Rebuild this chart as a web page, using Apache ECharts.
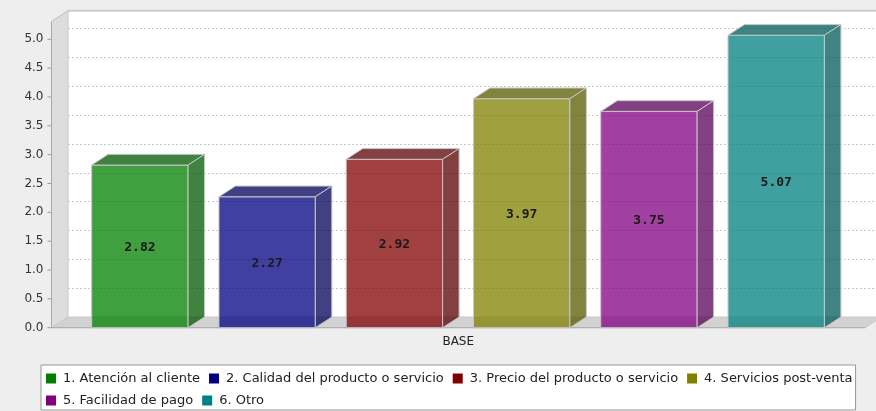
<!DOCTYPE html>
<html>
<head>
<meta charset="utf-8">
<script src="https://cdn.jsdelivr.net/npm/echarts@6/dist/echarts.min.js"></script>
<style>
html,body{margin:0;padding:0;background:#eeeeee;}
#chart{width:876px;height:411px;}
</style>
</head>
<body>
<div id="chart"></div>
<script>
// ---- data ----
const categories = ['BASE'];
const seriesNames = [
  '1. Atención al cliente',
  '2. Calidad del producto o servicio',
  '3. Precio del producto o servicio',
  '4. Servicios post-venta',
  '5. Facilidad de pago',
  '6. Otro'
];
const seriesValues = [2.82, 2.27, 2.92, 3.97, 3.75, 5.07];
const seriesColors = [[0,128,0],[0,0,128],[128,0,0],[128,128,0],[128,0,128],[0,128,128]];
const yMin = 0, yMax = 5.31, yStep = 0.5;

// ---- style / geometry ----
const DX = 16.5, DY = -10.7;
const startFrac = 0.0494, widthFrac = 0.1185, pitchFrac = 0.15644;
const FONT = '"DejaVu Sans", sans-serif';

function rgba(c, k, a) {
  return 'rgba(' + Math.round(c[0]*k) + ',' + Math.round(c[1]*k) + ',' + Math.round(c[2]*k) + ',' + a + ')';
}
function hex(c) {
  return '#' + c.map(v => v.toString(16).padStart(2, '0')).join('');
}

function renderWalls(params, api) {
  const cs = params.coordSys;
  const L = cs.x, R = cs.x + cs.width, T = cs.y, B = cs.y + cs.height;
  const ch = [];
  ch.push({type:'polygon', shape:{points:[[L,B],[L+DX,B+DY],[L+DX,T+DY],[L,T]]},
    style:{fill:'#dddddd', stroke:'#c8c8c8', lineWidth:1}});
  ch.push({type:'polygon', shape:{points:[[L,B],[L+DX,B+DY],[R+DX,B+DY],[R,B]]},
    style:{fill:'#d2d2d2', stroke:'#c8c8c8', lineWidth:1}});
  for (let k = 0; yMin + k*yStep <= yMax + 1e-9; k++) {
    const v = yMin + k*yStep;
    const y = api.coord([0, v])[1];
    if (k > 0) {
      ch.push({type:'line', shape:{x1:L, y1:y, x2:L+DX, y2:y+DY},
        style:{stroke:'#e6e6e6', lineWidth:1, lineDash:[2,2]}});
    }
    ch.push({type:'line', shape:{x1:L-4, y1:y, x2:L, y2:y},
      style:{stroke:'#999999', lineWidth:1}});
  }
  ch.push({type:'line', shape:{x1:L+DX, y1:T+DY, x2:R+DX+20, y2:T+DY},
    style:{stroke:'#cccccc', lineWidth:2}});
  ch.push({type:'line', shape:{x1:L, y1:T, x2:L+DX, y2:T+DY},
    style:{stroke:'#c8c8c8', lineWidth:1}});
  ch.push({type:'line', shape:{x1:L, y1:B, x2:R, y2:B},
    style:{stroke:'#aaaaaa', lineWidth:1}});
  ch.push({type:'line', shape:{x1:L, y1:B, x2:L, y2:T},
    style:{stroke:'#aaaaaa', lineWidth:1}});
  return {type:'group', children:ch};
}

function makeBar(i) {
  const c = seriesColors[i];
  return function(params, api) {
    const v = api.value(1);
    const base = api.coord([api.value(0), 0]);
    const top = api.coord([api.value(0), v]);
    const band = api.size([1, 0])[0];
    const x0 = base[0] - band/2 + band*startFrac + i*band*pitchFrac;
    const x1 = x0 + band*widthFrac;
    const yT = top[1], yB = base[1];
    const edge = '#c8c8c8';
    return {type:'group', children:[
      {type:'polygon', shape:{points:[[x0,yB],[x0,yT],[x1,yT],[x1,yB]]},
        style:{fill:rgba(c,1,0.75), stroke:edge, lineWidth:1}},
      {type:'polygon', shape:{points:[[x0,yT],[x0+DX,yT+DY],[x1+DX,yT+DY],[x1,yT]]},
        style:{fill:rgba(c,0.7,0.75), stroke:edge, lineWidth:1}},
      {type:'polygon', shape:{points:[[x1,yT],[x1+DX,yT+DY],[x1+DX,yB+DY],[x1,yB]]},
        style:{fill:rgba(c,0.7,0.75), stroke:edge, lineWidth:1}},
      {type:'text', style:{text:v.toFixed(2), x:(x0+x1)/2, y:(yT+yB)/2+1.5,
        align:'center', verticalAlign:'middle',
        font:'bold 13px "DejaVu Sans Mono", monospace', fill:'#1a1a1a'}}
    ]};
  };
}

const gridFront = {left:51.5, right:11, top:21.4, bottom:83.3};
const gridBack = {left:51.5+DX, right:11-DX, top:21.4+DY, bottom:83.3-DY,
  show:true, backgroundColor:'#ffffff', borderWidth:0};

const series = [{
  type:'custom', name:'__walls', xAxisIndex:0, yAxisIndex:0, z:1, silent:true,
  renderItem:renderWalls, data:[[0,0]]
}];
seriesNames.forEach((n, i) => {
  series.push({
    type:'custom', name:n, xAxisIndex:0, yAxisIndex:0, z:3, silent:true,
    itemStyle:{color:hex(seriesColors[i])},
    renderItem:makeBar(i), data:[[0, seriesValues[i]]]
  });
});

const chart = echarts.init(document.getElementById('chart'), null, {renderer:'canvas'});
chart.setOption({
  backgroundColor:'#eeeeee',
  animation:false,
  grid:[gridFront, gridBack],
  xAxis:[
    {type:'category', gridIndex:0, data:categories,
      axisLine:{show:false}, axisTick:{show:false},
      axisLabel:{color:'#222222', fontSize:12, fontFamily:FONT, margin:8}},
    {type:'category', gridIndex:1, data:categories,
      axisLine:{show:false}, axisTick:{show:false}, axisLabel:{show:false}}
  ],
  yAxis:[
    {type:'value', gridIndex:0, min:yMin, max:yMax, interval:yStep,
      axisLine:{show:false}, axisTick:{show:false}, splitLine:{show:false},
      axisLabel:{color:'#333333', fontSize:12, fontFamily:FONT, margin:8,
        formatter:function(v){ return Math.abs(v/yStep - Math.round(v/yStep)) < 1e-6 ? v.toFixed(1) : ''; }}},
    {type:'value', gridIndex:1, min:yMin, max:yMax, interval:yStep,
      axisLine:{show:false}, axisTick:{show:false}, axisLabel:{show:false},
      splitLine:{show:true, lineStyle:{color:'#c8c8c8', width:1, type:[2,2]}}}
  ],
  legend:{
    data:seriesNames, left:41, top:365, width:818, orient:'horizontal',
    icon:'rect', itemWidth:10, itemHeight:10, itemGap:9,
    padding:[7,3,3,5], backgroundColor:'#ffffff', borderColor:'#999999', borderWidth:1,
    selectedMode:false,
    formatter:function(name){ return '{t|' + name + '}'; },
    textStyle:{color:'#222222', fontSize:13, fontFamily:FONT,
      rich:{t:{color:'#222222', fontSize:13, fontFamily:FONT, padding:[0,3,0,2]}}}
  },
  series:series
});
</script>
</body>
</html>
